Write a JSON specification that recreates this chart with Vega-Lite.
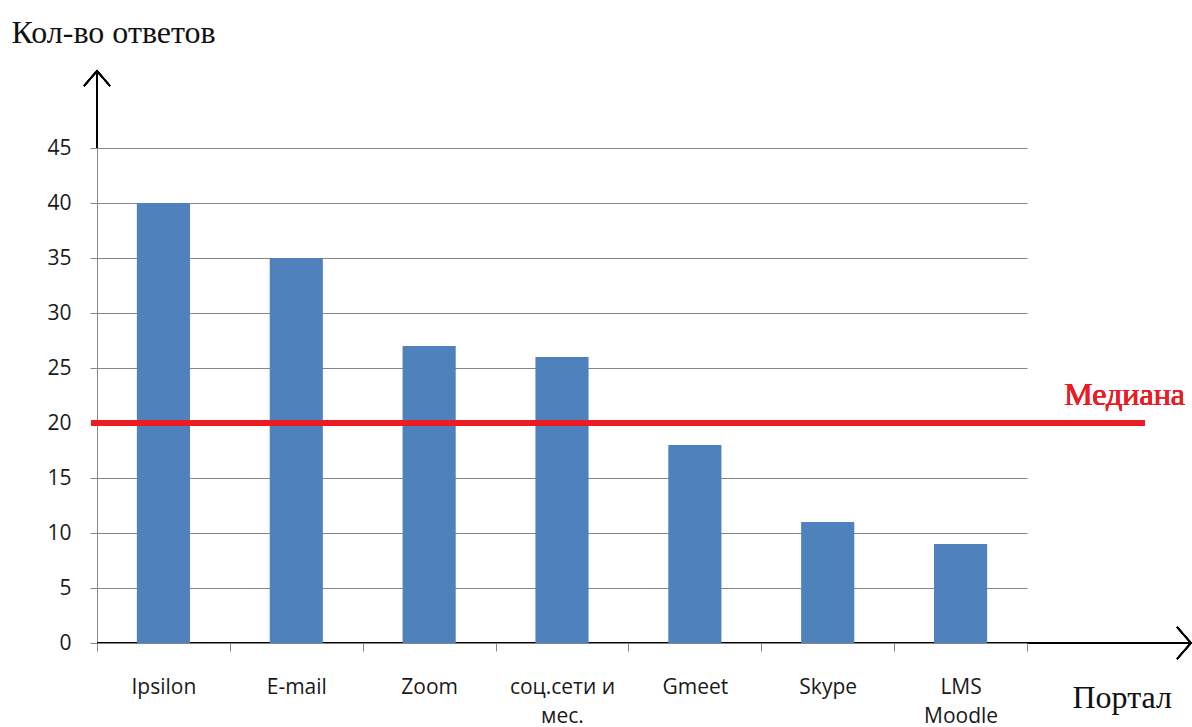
{
  "$schema": "https://vega.github.io/schema/vega-lite/v6.json",
  "autosize": {"type": "none"},
  "width": 1093,
  "height": 495,
  "padding": {"left": 97, "top": 148, "right": 2, "bottom": 84},
  "background": "white",
  "config": {
    "view": {"stroke": null},
    "axis": {"labelFont": "Open Sans", "labelFontSize": 21, "labelColor": "#1a1a1a", "titleFont": "Liberation Serif", "titleFontWeight": "normal", "titleFontSize": 32, "titleColor": "#111111"}
  },
  "data": {
    "values": [
      {"portal": "Ipsilon", "count": 40},
      {"portal": "E-mail", "count": 35},
      {"portal": "Zoom", "count": 27},
      {"portal": "соц.сети и мес.", "count": 26},
      {"portal": "Gmeet", "count": 18},
      {"portal": "Skype", "count": 11},
      {"portal": "LMS Moodle", "count": 9}
    ]
  },
  "layer": [
    {
      "mark": {"type": "rule", "color": "black", "strokeWidth": 1.3},
      "encoding": {"y": {"datum": 0, "type": "quantitative"}}
    },
    {
      "mark": {"type": "bar", "color": "#4F81BD", "width": {"band": 0.4}},
      "encoding": {
        "x": {
          "field": "portal",
          "type": "nominal",
          "sort": null,
          "scale": {"range": [0, 930], "paddingInner": 0, "paddingOuter": 0},
          "axis": {
            "tickBand": "extent",
            "zindex": 1,
            "domainColor": "#868686",
            "tickColor": "#868686",
            "tickSize": 8,
            "labelAngle": 0,
            "labelPadding": 25,
            "labelBaseline": "top",
            "labelLineHeight": 29,
            "labelExpr": "datum.label == 'соц.сети и мес.' ? ['соц.сети и', 'мес.'] : datum.label == 'LMS Moodle' ? ['LMS', 'Moodle'] : datum.label",
            "grid": false,
            "title": "Портал",
            "titleAlign": "left",
            "titleBaseline": "alphabetic",
            "titleX": 975,
            "titleY": 64
          }
        },
        "y": {
          "field": "count",
          "type": "quantitative",
          "scale": {"domain": [0, 45], "nice": false},
          "axis": {
            "values": [0, 5, 10, 15, 20, 25, 30, 35, 40, 45],
            "grid": true,
            "gridColor": "#868686",
            "gridWidth": 1.2,
            "domainColor": "#868686",
            "tickColor": "#868686",
            "tickSize": 7,
            "labelPadding": 19,
            "title": "Кол-во ответов",
            "titleAngle": 0,
            "titleAlign": "left",
            "titleBaseline": "alphabetic",
            "titleX": -86,
            "titleY": -106
          }
        }
      }
    },
    {
      "mark": {"type": "rule", "color": "black", "strokeWidth": 1.3},
      "encoding": {
        "x": {"value": 0},
        "y": {"datum": 45, "type": "quantitative"},
        "y2": {"datum": 52}
      }
    },
    {
      "mark": {"type": "point", "shape": "M-1,1.15L0,0L1,1.15", "filled": false, "color": "black", "strokeWidth": 1.5, "size": 676, "opacity": 1},
      "encoding": {
        "x": {"value": 0},
        "y": {"datum": 52, "type": "quantitative"}
      }
    },
    {
      "mark": {"type": "point", "shape": "M-1,-1.15L0,0L-1,1.15", "filled": false, "color": "black", "strokeWidth": 1.5, "size": 784, "opacity": 1},
      "encoding": {
        "x": {"value": 1094},
        "y": {"datum": 0, "type": "quantitative"}
      }
    },
    {
      "mark": {"type": "rule", "color": "#ED1C24", "strokeWidth": 5},
      "encoding": {
        "x": {"value": -6},
        "x2": {"value": 1048},
        "y": {"datum": 20, "type": "quantitative"}
      }
    },
    {
      "mark": {"type": "text", "text": "Медиана", "font": "Liberation Serif", "fontSize": 32, "fill": "#ED1C24", "stroke": null, "align": "right", "baseline": "alphabetic", "dy": -18},
      "encoding": {
        "x": {"value": 1088},
        "y": {"datum": 20, "type": "quantitative"}
      }
    }
  ]
}
